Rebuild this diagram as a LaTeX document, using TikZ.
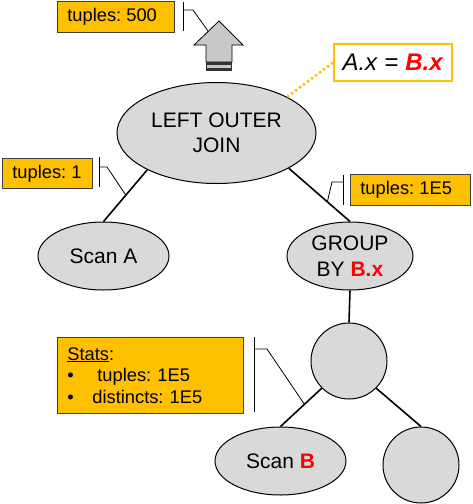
\documentclass[tikz,border=0pt]{standalone}
\usepackage{fontspec}
\setmainfont{Liberation Sans}
\usetikzlibrary{shapes.geometric}
\definecolor{nodegray}{HTML}{D9D9D9}
\definecolor{arrowgray}{HTML}{C8C8C8}
\definecolor{statorange}{HTML}{FFC000}
\definecolor{keyred}{HTML}{FF0000}
\frenchspacing
\begin{document}
\frenchspacing
\begin{tikzpicture}[x=1pt,y=-1pt,
  opnode/.style={ellipse, draw=black, line width=1pt, fill=nodegray, inner sep=0pt,
    font=\fontsize{21}{25.5}\selectfont, align=center},
  circnode/.style={circle, draw=black, line width=1pt, fill=nodegray, minimum size=76pt, inner sep=0pt},
  statbox/.style={draw=black!75, line width=0.8pt, fill=statorange, inner xsep=10pt, inner ysep=0pt,
    anchor=north west, align=left, font=\fontsize{18.3}{21.7}\selectfont\frenchspacing},
  treeedge/.style={line width=1.6pt},
  bracketline/.style={line width=0.8pt},
]
\useasboundingbox (0,0) rectangle (472,504);

% operator nodes
\node[opnode, minimum width=199pt, minimum height=101pt] (join) at (216.5,133) {LEFT OUTER\\JOIN};
\node[opnode, minimum width=131pt, minimum height=68pt] (scana) at (103.5,256) {Scan A};
\node[opnode, minimum width=126pt, minimum height=68pt] (gb) at (350,256) {GROUP\\BY \textcolor{keyred}{\textbf{B.x}}};
\node[circnode] (agg) at (349,361) {};
\node[opnode, minimum width=131pt, minimum height=68pt] (scanb) at (280.5,461) {Scan \textcolor{keyred}{\textbf{B}}};
\node[circnode] (rc) at (421,465) {};

% tree edges
\draw[treeedge] (join.-152) -- (scana.north) coordinate[pos=0.49] (e1);
\draw[treeedge] (join.-26) -- (gb.north) coordinate[pos=0.63] (e2);
\draw[treeedge] (gb.south) -- (agg.north);
\draw[treeedge] (agg.-135) -- (scanb.north) coordinate[pos=0.42] (e3);
\draw[treeedge] (agg.-45) -- (rc.north);

% output arrow
\draw[line width=0.8pt, fill=arrowgray] (219,21) -- (243,45) -- (232,45) -- (232,62) -- (206,62) -- (206,45) -- (194,45) -- cycle;
\fill[black!80] (206,62) rectangle (232,70.5);
\fill[arrowgray] (207,65) rectangle (231,67.5);
\coordinate (arrowedge) at (208,31);

% statistics boxes
\node[statbox, minimum height=31pt] (t500) at (57,1) {\makebox[97pt][l]{tuples: 500}};
\node[statbox, minimum height=30pt] (t1) at (2,158) {\makebox[70pt][l]{tuples: 1}};
\node[statbox, minimum height=31pt] (t1e5) at (350,174) {\makebox[100pt][l]{tuples: 1E5}};
\node[statbox, text width=166pt, minimum height=76pt] (stats) at (57,337)
  {\underline{Stats}:\\\makebox[30pt][l]{•}tuples: 1E5\\\makebox[25pt][l]{•}distincts: 1E5};

% brackets
\draw[bracketline] (183,2) -- (183,31);
\draw[bracketline] (183,10) -- (193,10) -- (arrowedge);
\draw[bracketline] (99,157) -- (99,187);
\draw[bracketline] (99,167) -- (107,167) -- (e1);
\draw[bracketline] (343,175) -- (343,205);
\draw[bracketline] (343,182) -- (332,182) -- (e2);
\draw[bracketline] (254,337) -- (254,412);
\draw[bracketline] (254,349) -- (267,349) -- (e3);

% predicate
\node[draw=statorange, line width=2pt, fill=white, minimum width=118pt, minimum height=37pt, inner sep=0pt,
  font=\fontsize{24}{28}\selectfont] (pred) at (393,62.5)
  {\textit{A.x} = \textcolor{keyred}{\textbf{\textit{B.x}}}};
\draw[statorange, line width=2.5pt, dash pattern=on 2.5pt off 2.5pt] (pred.west) -- (join.27);
\end{tikzpicture}
\end{document}
